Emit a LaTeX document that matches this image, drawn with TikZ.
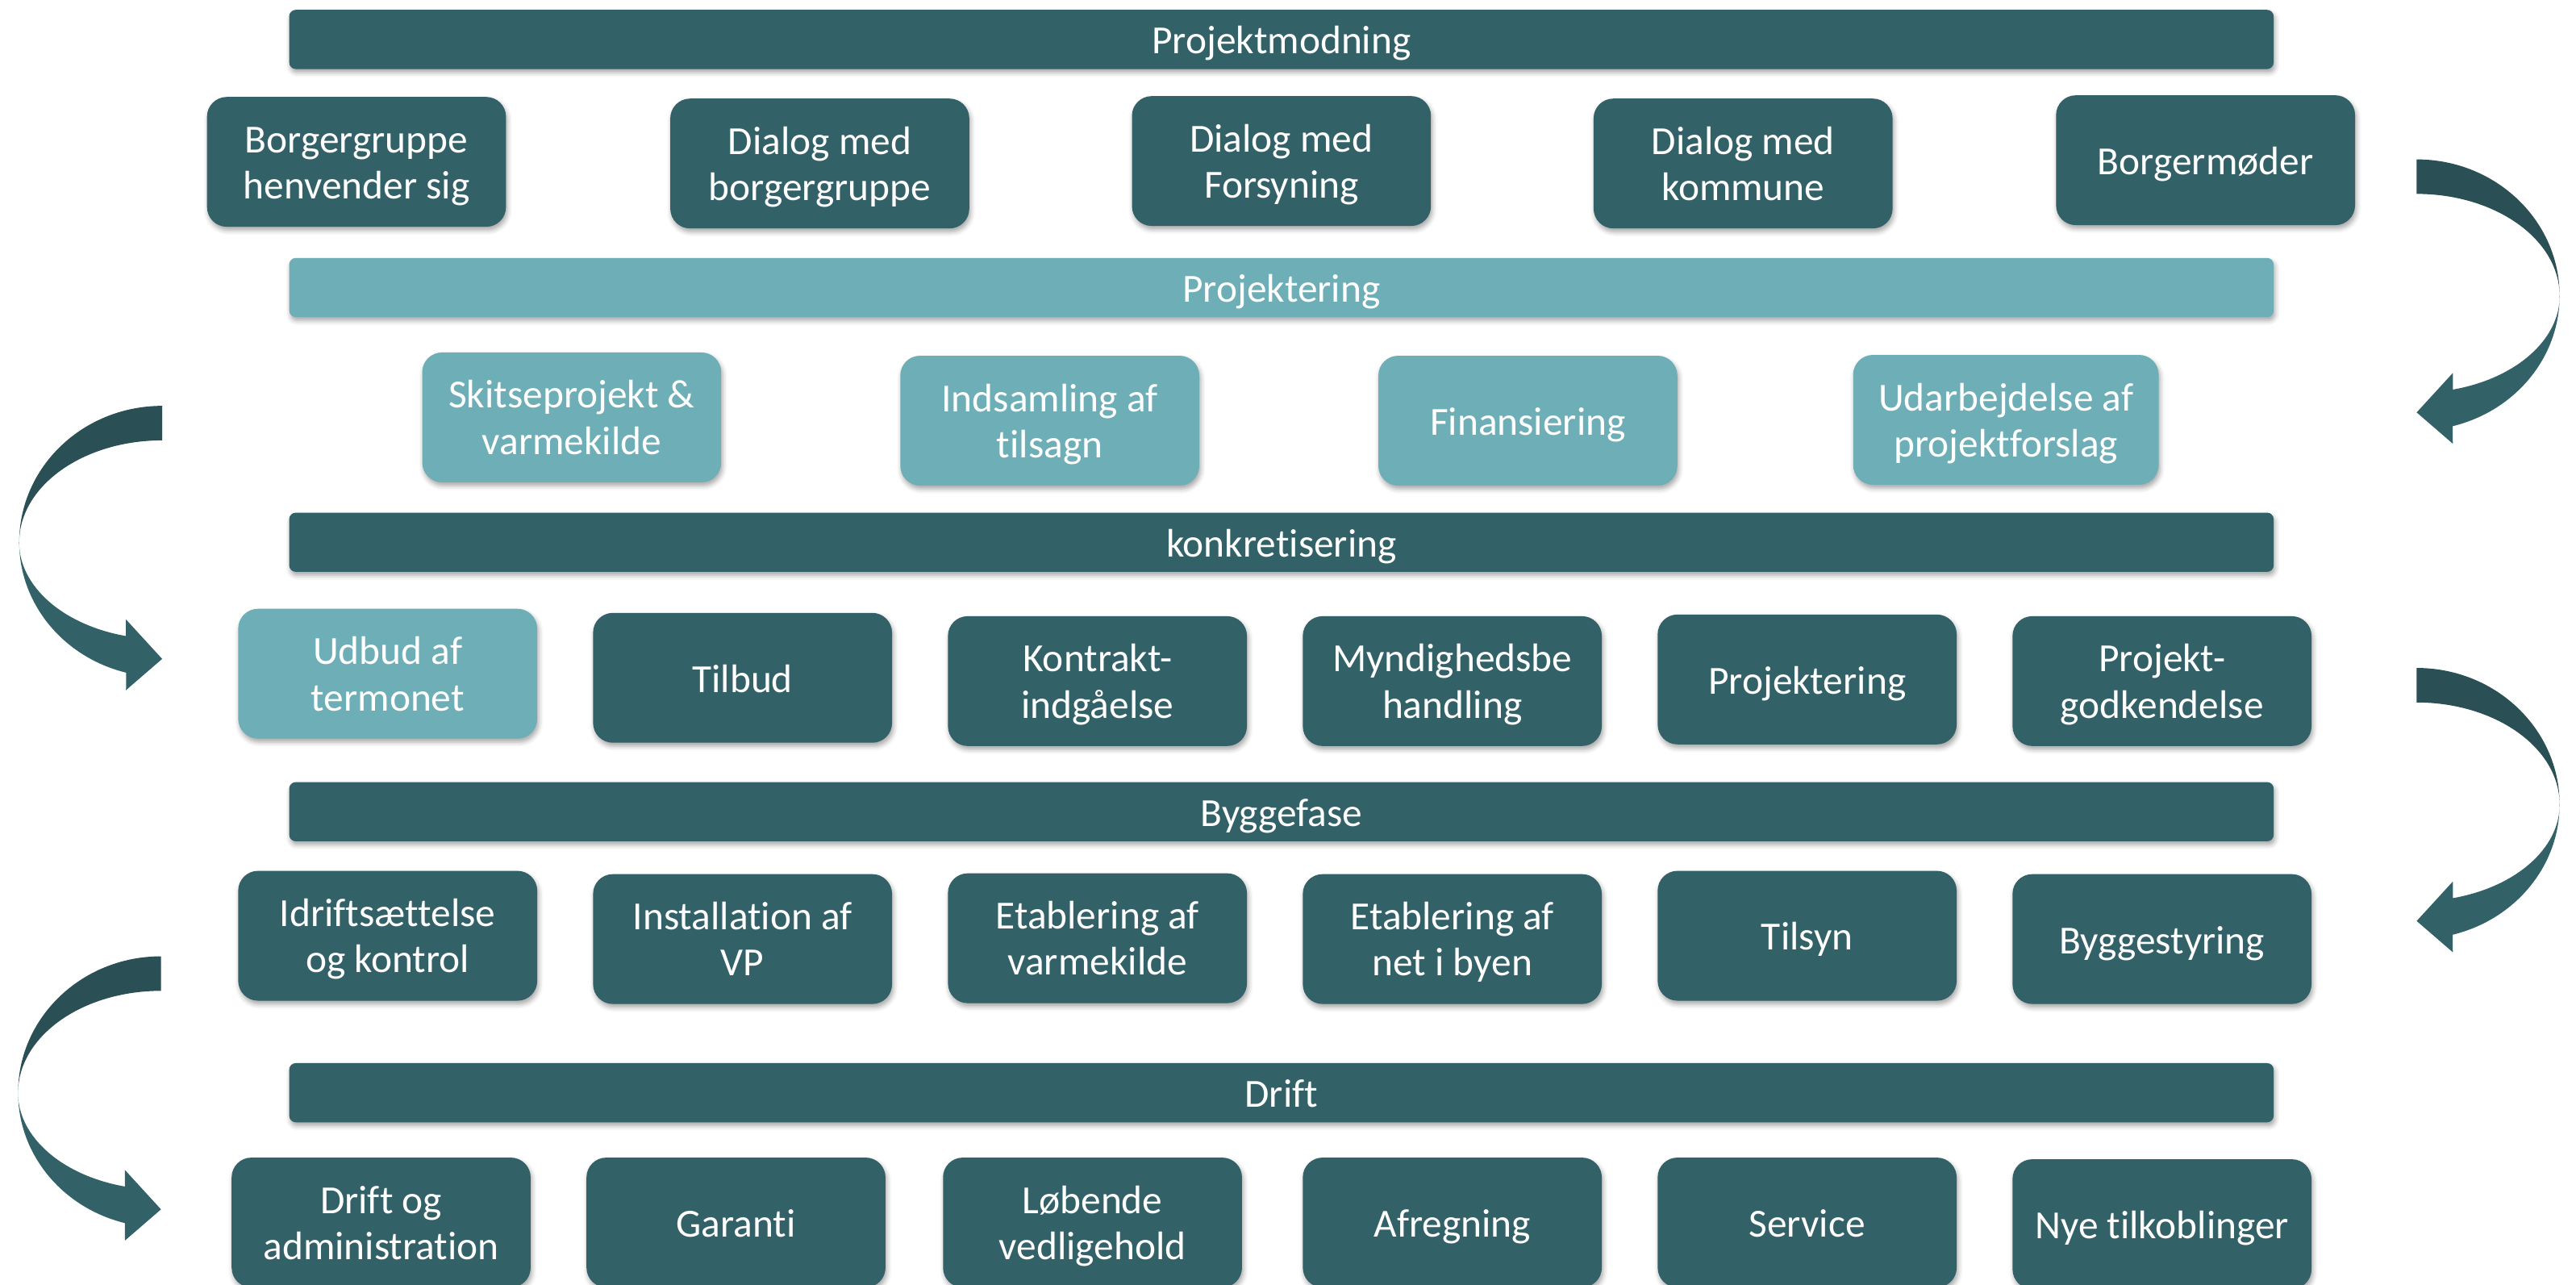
\documentclass[tikz,border=0pt]{standalone}
\usepackage{fontspec}
\setmainfont{Carlito}[Ligatures=NoCommon]
\usetikzlibrary{shadows.blur}
\definecolor{dteal}{HTML}{336168}
\definecolor{lteal}{HTML}{6EAFB7}
\definecolor{ateal}{HTML}{2A4F55}
\newcommand\twol[2]{\raisebox{-4pt}[\height][\depth]{\begin{tabular}{@{}c@{}}#1\\#2\end{tabular}}}
\begin{document}
\begin{tikzpicture}[x=0.05cm,y=0.05cm,
  shd/.style={blur shadow={shadow xshift=1.2pt,shadow yshift=-3pt,shadow blur radius=4pt,shadow opacity=35}},
  base/.style={shd,text=white,align=center,inner sep=0pt,
    font=\fontsize{34.5}{40}\selectfont,
    execute at begin node={\rule{0pt}{33pt}},
    execute at end node={\rule[-8pt]{0pt}{0pt}}},
  dbox/.style={base,fill=dteal,rounded corners=0.6cm,minimum width=9.1cm,minimum height=3.95cm},
  lbox/.style={base,fill=lteal,rounded corners=0.6cm,minimum width=9.1cm,minimum height=3.95cm},
  dbar/.style={base,fill=dteal,rounded corners=0.2cm,minimum width=60.4cm,minimum height=1.8cm},
  lbar/.style={base,fill=lteal,rounded corners=0.2cm,minimum width=60.4cm,minimum height=1.8cm},
  aup/.style={fill=ateal},
  alo/.style={fill=dteal}]
\useasboundingbox (0,0) rectangle (1568,-782);
\begin{scope}
\clip (0,0) rectangle (1568,-782);
% header bars
\node[dbar] (h1) at (780,-24) {Projektmodning};
\node[lbar] (h2) at (780,-175) {Projektering};
\node[dbar] (h3) at (780,-330) {konkretisering};
\node[dbar] (h4) at (780,-494) {Byggefase};
\node[dbar] (h5) at (780,-665) {Drift};
% row 1
\node[dbox] (b11) at (217,-98.5) {\twol{Borgergruppe}{henvender sig}};
\node[dbox] (b12) at (499,-99.5) {\twol{Dialog med}{borgergruppe}};
\node[dbox] (b13) at (780,-98) {\twol{Dialog med}{Forsyning}};
\node[dbox] (b14) at (1061,-99.5) {\twol{Dialog med}{kommune}};
\node[dbox] (b15) at (1342.5,-97.5) {Borgermøder};
% row 2
\node[lbox] (b21) at (348,-254) {\twol{Skitseprojekt \&}{varmekilde}};
\node[lbox] (b22) at (639,-256) {\twol{Indsamling af}{tilsagn}};
\node[lbox] (b23) at (930,-256) {Finansiering};
\node[lbox,minimum width=9.3cm] (b24) at (1221,-255.5) {\twol{Udarbejdelse af}{projektforslag}};
% row 3
\node[lbox] (b31) at (236,-410) {\twol{Udbud af}{termonet}};
\node[dbox] (b32) at (452,-412.5) {Tilbud};
\node[dbox] (b33) at (668,-414.5) {\twol{Kontrakt-}{indgåelse}};
\node[dbox] (b34) at (884,-414.5) {\twol{Myndighedsbe}{handling}};
\node[dbox] (b35) at (1100,-413.5) {Projektering};
\node[dbox] (b36) at (1316,-414.5) {\twol{Projekt-}{godkendelse}};
% row 4
\node[dbox] (b41) at (236,-569.5) {\twol{Idriftsættelse}{og kontrol}};
\node[dbox] (b42) at (452,-571.5) {\twol{Installation af}{VP}};
\node[dbox] (b43) at (668,-571) {\twol{Etablering af}{varmekilde}};
\node[dbox] (b44) at (884,-571.5) {\twol{Etablering af}{net i byen}};
\node[dbox] (b45) at (1100,-569.5) {Tilsyn};
\node[dbox] (b46) at (1316,-571.5) {Byggestyring};
% row 5
\node[dbox] (b51) at (232,-744) {\twol{Drift og}{administration}};
\node[dbox] (b52) at (448,-744) {Garanti};
\node[dbox] (b53) at (665,-744) {\twol{Løbende}{vedligehold}};
\node[dbox] (b54) at (884,-744) {Afregning};
\node[dbox] (b55) at (1100,-744) {Service};
\node[dbox] (b56) at (1316,-745) {Nye tilkoblinger};
\end{scope}
% curved arrows
\foreach \cx/\cy/\sx in {1471/-180/1, 1471/-489.5/1, 98.7/-330/-1, 98/-665/-1}{
  \begin{scope}[shift={(\cx,\cy)},xscale=\sx]
    \fill[aup] (0,83) arc[start angle=90,end angle=0,x radius=87,y radius=83]
      arc[start angle=0,end angle=90,x radius=87,y radius=62] -- cycle;
    \fill[alo] (87,0) arc[start angle=0,end angle=-75.4,x radius=87,y radius=82]
      -- (22,-90) -- (0,-71) -- (22,-47) -- (22,-57.1)
      arc[start angle=-75.4,end angle=0,x radius=87,y radius=59] -- cycle;
  \end{scope}
}
\end{tikzpicture}
\end{document}
